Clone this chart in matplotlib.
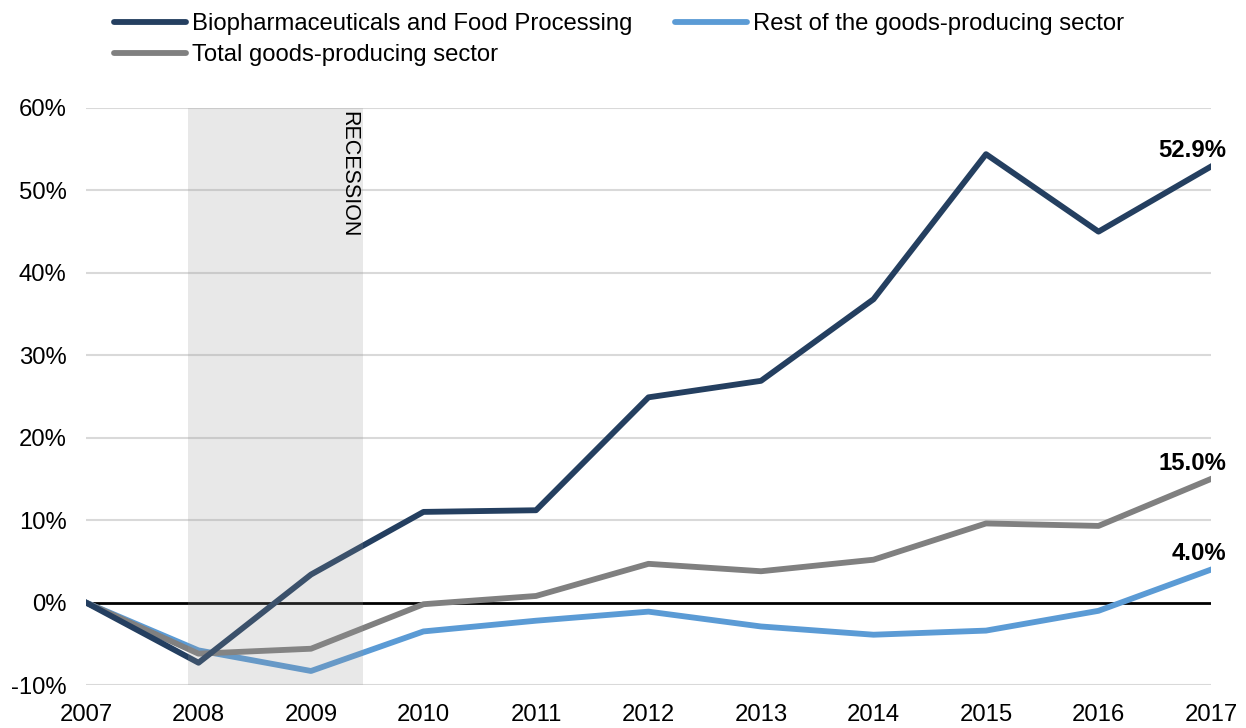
import matplotlib
matplotlib.use("Agg")
import matplotlib.pyplot as plt
from matplotlib.ticker import FuncFormatter

years = [2007, 2008, 2009, 2010, 2011, 2012, 2013, 2014, 2015, 2016, 2017]
bio = [0.0, -7.3, 3.4, 11.0, 11.2, 24.9, 26.9, 36.8, 54.4, 45.0, 52.9]
total = [0.0, -6.2, -5.6, -0.2, 0.8, 4.7, 3.8, 5.2, 9.6, 9.3, 15.0]
rest = [0.0, -5.8, -8.3, -3.5, -2.2, -1.1, -2.9, -3.9, -3.4, -1.0, 4.0]
recession = (2007.91, 2009.46)
end_labels = ["52.9%", "15.0%", "4.0%"]

plt.rcParams['font.family'] = ['Liberation Sans', 'DejaVu Sans']
fs = 17.2

fig = plt.figure(figsize=(12.46, 7.28), dpi=100)
ax = fig.add_axes([86/1246, 1 - 685/728, (1211-86)/1246, (685-108)/728])

for v in range(-10, 61, 10):
    if v != 0:
        ax.axhline(v, color='#d9d9d9', lw=1.5, zorder=0)
ax.axhline(0, color='black', lw=2, zorder=1)

c_bio, c_rest, c_total = '#243f60', '#5b9bd5', '#808080'
l_bio, = ax.plot(years, bio, color=c_bio, lw=4.2, zorder=3,
                 label='Biopharmaceuticals and Food Processing')
l_rest, = ax.plot(years, rest, color=c_rest, lw=4.2, zorder=2,
                  label='Rest of the goods-producing sector')
l_total, = ax.plot(years, total, color=c_total, lw=4.2, zorder=2.5,
                   label='Total goods-producing sector')

# recession shading sits over the lines (they show through lighter)
ax.axvspan(recession[0], recession[1], color='#959595', alpha=0.21, lw=0, zorder=4)
ax.text(recession[1] - 0.03, 59.6, 'RECESSION', rotation=270, ha='right', va='top',
        fontsize=15.5, zorder=5)

for vals, lab in zip([bio, total, rest], end_labels):
    ax.annotate(lab, (years[-1], vals[-1]), xytext=(11, 3), textcoords='offset points',
                ha='right', va='bottom', fontweight='bold', fontsize=fs)

ax.set_xlim(2007, 2017)
ax.set_ylim(-10, 60)
ax.set_xticks(years)
ax.set_yticks(range(-10, 61, 10))
ax.yaxis.set_major_formatter(FuncFormatter(lambda v, p: f"{v:.0f}%"))
ax.tick_params(axis='both', length=0, labelsize=fs)
ax.tick_params(axis='y', pad=14)
ax.tick_params(axis='x', pad=14)
for s in ax.spines.values():
    s.set_visible(False)

leg = fig.legend(handles=[l_bio, l_total, l_rest], ncol=2, frameon=False,
                 loc='upper left', bbox_to_anchor=(114/1246, 1 - 13/728), fontsize=fs,
                 handlelength=3.0, handletextpad=0.25, columnspacing=1.8,
                 labelspacing=0.38, borderpad=0, borderaxespad=0)
for h in leg.legend_handles:
    h.set_solid_capstyle('round')

fig.savefig('out.png', dpi=100)
